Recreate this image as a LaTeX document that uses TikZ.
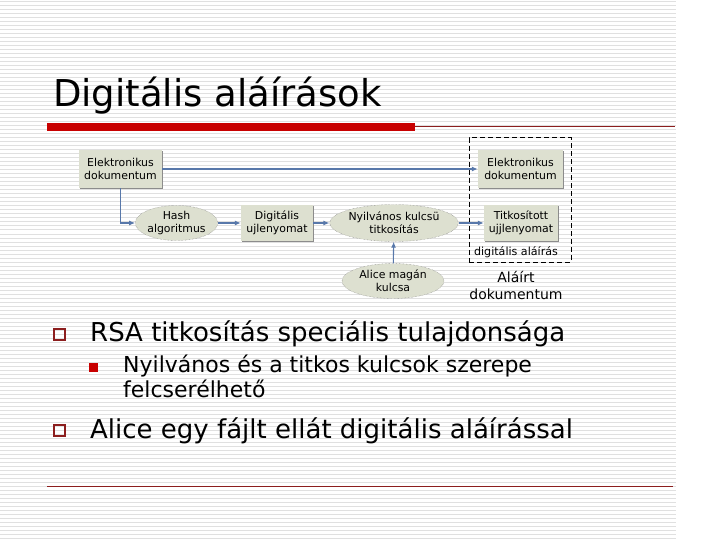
\documentclass[tikz,border=0pt]{standalone}
\usepackage{fontspec}
\setmainfont{DejaVu Sans}
\usetikzlibrary{arrows.meta,shapes.geometric,shadows}
\definecolor{boxfill}{RGB}{221,224,208}
\definecolor{flowblue}{RGB}{88,120,170}
\definecolor{stripe}{RGB}{224,224,224}
\definecolor{barred}{RGB}{200,0,0}
\definecolor{linered}{RGB}{140,30,30}

\begin{document}
\begin{tikzpicture}
          [x=1pt,y=-1pt,
           docbox/.style={fill=boxfill,align=center,inner sep=0pt,font=\fontsize{10.9}{13}\selectfont,
             drop shadow={shadow xshift=1pt,shadow yshift=-1pt,fill=black!45,opacity=1}},
           oval/.style={ellipse,fill=boxfill,draw=black!55,densely dotted,align=center,inner sep=0pt,
             font=\fontsize{10.9}{13}\selectfont},
           flow/.style={draw=flowblue,line width=1.1pt,-{Latex[length=6pt,width=5pt]}},
           bullet/.style={anchor=base west,inner sep=0pt}]

          \useasboundingbox (0,0) rectangle (720,540);
          \fill[white] (0,0) rectangle (720,540);
          \foreach \y in {2,6,...,538}
            \draw[stripe,line width=1pt] (0,\y) -- (676,\y);

          \node[anchor=base west,inner sep=0pt,font=\fontsize{37}{37}\selectfont] (title) at (53,107) {Digitális aláírások};
          \fill[barred] (47,123) rectangle (415,131);
          \draw[linered,line width=0.8pt] (415,126) -- (675,126);
          \draw[linered,line width=0.8pt] (47,486) -- (673,486);

          \node[docbox,minimum width=83pt,minimum height=38pt] (doc1) at (120.5,169) {Elektronikus\\dokumentum};
          \node[oval,minimum width=77pt,minimum height=35pt] (hash) at (176.5,223) {Hash\\algoritmus};
          \node[docbox,minimum width=72pt,minimum height=36pt] (ujl) at (277,223) {Digitális\\ujlenyomat};
          \node[oval,minimum width=116pt,minimum height=37pt] (nyil) at (394,223) {Nyilvános kulcsü\\titkosítás};
          \node[oval,minimum width=102pt,minimum height=35pt] (alice) at (393,281) {Alice magán\\kulcsa};
          \node[docbox,minimum width=85pt,minimum height=38pt] (doc2) at (520.5,169) {Elektronikus\\dokumentum};
          \node[docbox,minimum width=74pt,minimum height=36pt] (titk) at (521,223) {Titkosított\\ujjlenyomat};
          \node[draw,dashed,line width=1pt,dash pattern=on 5pt off 3pt,minimum width=102pt,minimum height=124pt,inner sep=0pt] (sig) at (520,200) {};
          \node[inner sep=0pt,font=\fontsize{11.1}{13}\selectfont] (siglabel) at (516,252) {digitális aláírás};
          \node[inner sep=0pt,align=center,font=\fontsize{14}{17}\selectfont] (signed) at (516,285) {Aláírt\\dokumentum};

          \draw[flow] (doc1.south) |- (hash.west);
          \draw[flow] (doc1) -- (doc2);
          \draw[flow] (hash) -- (ujl);
          \draw[flow] (ujl) -- (nyil);
          \draw[flow] (nyil) -- (titk);
          \draw[flow] (alice) -- (nyil);

          \draw[linered,line width=2pt] (53.5,328.5) rectangle (64.5,339.5);
          \node[bullet,font=\fontsize{26}{26}\selectfont] (rsa) at (90,341) {RSA titkosítás speciális tulajdonsága};
          \fill[barred] (89,363) rectangle (98,372);
          \node[bullet,align=left,font=\fontsize{22}{25}\selectfont] (swap) at (123,397) {Nyilvános és a titkos kulcsok szerepe\\felcserélhető};
          \draw[linered,line width=2pt] (53.5,424.5) rectangle (64.5,435.5);
          \node[bullet,font=\fontsize{26}{26}\selectfont] (alicesig) at (90,438) {Alice egy fájlt ellát digitális aláírással};
        \end{tikzpicture}
\end{document}
